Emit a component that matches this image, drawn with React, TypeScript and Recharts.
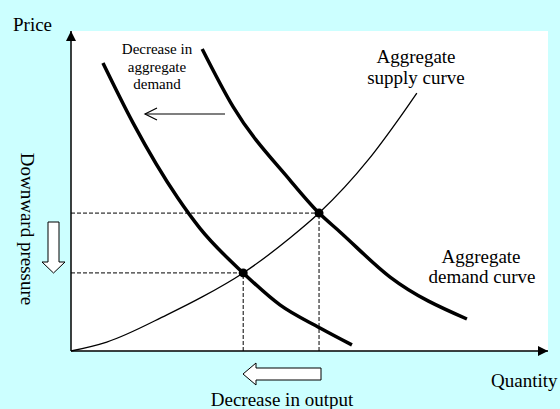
import { ComposedChart, Line, XAxis, YAxis, CartesianGrid, ReferenceLine, ReferenceDot } from "recharts";

// points, quantity 0-100 across, price 0-100 up
const supplyCurve = [
  { x: 0, y: 0 },
  { x: 7.5, y: 2.8 },
  { x: 20.1, y: 11.3 },
  { x: 27.5, y: 16.9 },
  { x: 36.1, y: 24.4 },
  { x: 45.9, y: 35.3 },
  { x: 52, y: 43.1 },
  { x: 62.3, y: 59.7 },
  { x: 69, y: 73.1 },
  { x: 72.5, y: 80.6 },
];

const demandBefore = [
  { x: 27.5, y: 94.4 },
  { x: 34, y: 76.3 },
  { x: 45.9, y: 53.4 },
  { x: 52, y: 43.1 },
  { x: 56.4, y: 37.2 },
  { x: 66.9, y: 23.1 },
  { x: 83, y: 10 },
];

const demandAfter = [
  { x: 6.7, y: 90 },
  { x: 13, y: 71.3 },
  { x: 22.4, y: 47.8 },
  { x: 27, y: 38.4 },
  { x: 36.1, y: 24.4 },
  { x: 43.8, y: 14.4 },
  { x: 52.2, y: 7.2 },
  { x: 58.9, y: 1.9 },
];

// equilibria: old, new
const eqQuantity = [52, 36.1];
const eqPrice = [43.1, 24.4];

const BG = "#CCFFFF";
const serif = "'Liberation Serif', 'Times New Roman', serif";

export default function App() {
  return (
    <div style={{ position: "absolute", left: 0, top: 0, width: 560, height: 409, background: BG, fontFamily: serif }}>
      <svg width={0} height={0} style={{ position: "absolute" }}>
        <defs>
          <marker id="axisHead" markerUnits="userSpaceOnUse" markerWidth={12} markerHeight={10} refX={10} refY={5} orient="auto">
            <path d="M0,0 L10,5 L0,10 z" fill="#000" />
          </marker>
        </defs>
      </svg>
      <ComposedChart width={560} height={409} margin={{ top: 31, right: 12, bottom: 58, left: 71 }}>
        <CartesianGrid horizontal={false} vertical={false} fill="#ffffff" fillOpacity={1} />
        <XAxis type="number" dataKey="x" domain={[0, 100]} hide />
        <YAxis type="number" dataKey="y" domain={[0, 100]} hide />
        {eqQuantity.map((q, i) => (
          <ReferenceLine
            key={"h" + i}
            segment={[{ x: 0, y: eqPrice[i] }, { x: q, y: eqPrice[i] }]}
            stroke="#000"
            strokeWidth={1}
            strokeDasharray="4 2"
          />
        ))}
        {eqQuantity.map((q, i) => (
          <ReferenceLine
            key={"v" + i}
            segment={[{ x: q, y: 0 }, { x: q, y: eqPrice[i] }]}
            stroke="#000"
            strokeWidth={1}
            strokeDasharray="4 2"
          />
        ))}
        {/* axes as arrows */}
        <ReferenceLine segment={[{ x: 0, y: 0 }, { x: 100, y: 0 }]} stroke="#000" strokeWidth={1.5} markerEnd="url(#axisHead)" />
        <ReferenceLine segment={[{ x: 0, y: 0 }, { x: 0, y: 100 }]} stroke="#000" strokeWidth={1.5} markerEnd="url(#axisHead)" />
        <Line data={supplyCurve} dataKey="y" type="monotone" stroke="#000" strokeWidth={1.3} dot={false} isAnimationActive={false} />
        <Line data={demandBefore} dataKey="y" type="monotone" stroke="#000" strokeWidth={3.5} dot={false} isAnimationActive={false} />
        <Line data={demandAfter} dataKey="y" type="monotone" stroke="#000" strokeWidth={3.5} dot={false} isAnimationActive={false} />
        {eqQuantity.map((q, i) => (
          <ReferenceDot key={"d" + i} x={q} y={eqPrice[i]} r={4.5} fill="#000" stroke="none" />
        ))}
      </ComposedChart>

      <svg width={560} height={409} style={{ position: "absolute", left: 0, top: 0, pointerEvents: "none" }}>
        <g fontFamily={serif} fill="#000" fontSize={19}>
          <text x={13} y={31}>Price</text>
          <text x={491} y={387}>Quantity</text>
          <text x={282} y={406} textAnchor="middle">Decrease in output</text>
          <text x={416} y={63} textAnchor="middle">Aggregate</text>
          <text x={416} y={84} textAnchor="middle">supply curve</text>
          <text x={481} y={263} textAnchor="middle">Aggregate</text>
          <text x={482} y={283} textAnchor="middle">demand curve</text>
          <text x={27} y={229} textAnchor="middle" dominantBaseline="central" transform="rotate(90 27 229)">
            Downward pressure
          </text>
        </g>
        <g fontFamily={serif} fill="#000" fontSize={15} textAnchor="middle">
          <text x={157} y={54}>Decrease in</text>
          <text x={157} y={72}>aggregate</text>
          <text x={157} y={89}>demand</text>
        </g>
        {/* thin shift arrow */}
        <line x1={225} y1={114} x2={145} y2={114} stroke="#000" strokeWidth={1.2} />
        <polyline points="157,108 145,114 157,120" fill="none" stroke="#000" strokeWidth={1.2} />
        {/* hollow down arrow */}
        <path d="M48,222 L59,222 L59,262 L65,262 L53.5,273 L42,262 L48,262 z" fill="#fff" stroke="#000" strokeWidth={1} />
        {/* hollow left arrow */}
        <path d="M321,368 L321,380 L256,380 L256,385 L243,374 L256,363 L256,368 z" fill="#fff" stroke="#000" strokeWidth={1} />
      </svg>
    </div>
  );
}
